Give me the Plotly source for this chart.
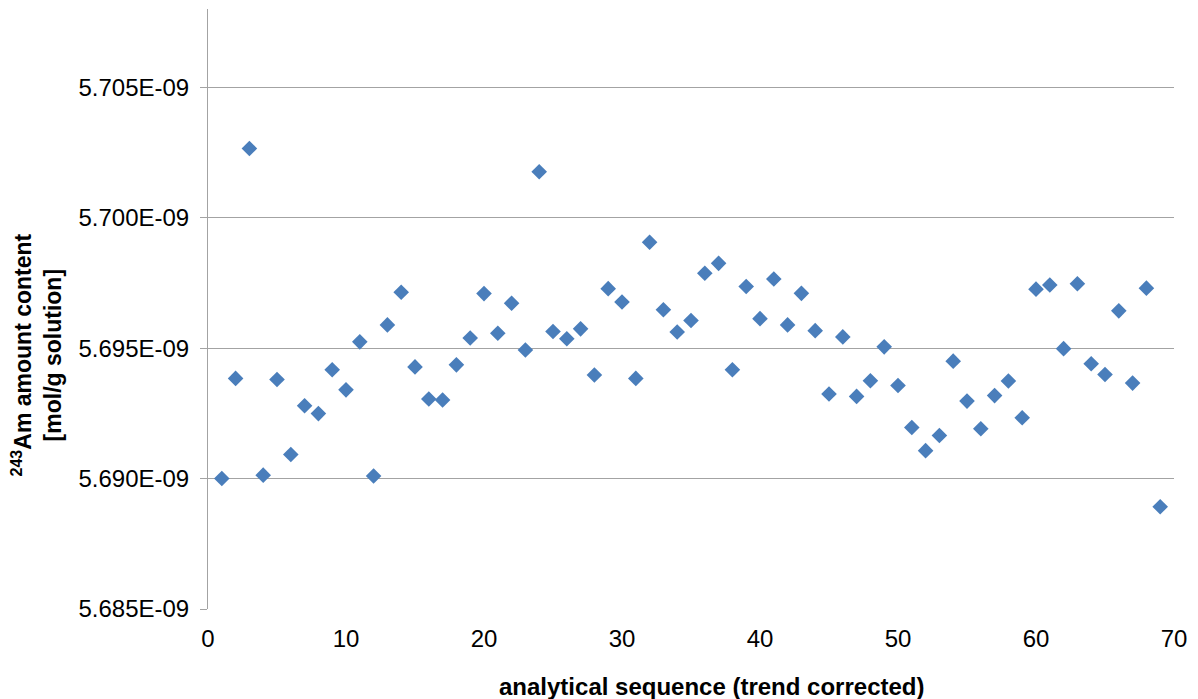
import plotly.graph_objects as go

# analytical sequence index
sequence = list(range(1, 70))

# 243Am amount content [mol/g solution] (x 1e-9)
am243 = [
    5.69000, 5.69384, 5.70265, 5.69013, 5.69380, 5.69092, 5.69279, 5.69249, 5.69417, 5.69340,
    5.69524, 5.69010, 5.69589, 5.69714, 5.69428, 5.69305, 5.69301, 5.69436, 5.69539, 5.69709,
    5.69557, 5.69672, 5.69493, 5.70176, 5.69564, 5.69536, 5.69574, 5.69397, 5.69728, 5.69677,
    5.69384, 5.69906, 5.69647, 5.69562, 5.69606, 5.69787, 5.69825, 5.69417, 5.69736, 5.69613,
    5.69765, 5.69589, 5.69710, 5.69567, 5.69324, 5.69543, 5.69315, 5.69375, 5.69505, 5.69357,
    5.69196, 5.69107, 5.69165, 5.69450, 5.69297, 5.69191, 5.69318, 5.69374, 5.69233, 5.69726,
    5.69742, 5.69498, 5.69747, 5.69440, 5.69399, 5.69643, 5.69366, 5.69730, 5.68892,
]
am243 = [v * 1e-9 for v in am243]

y_tick_vals = [5.685e-9, 5.690e-9, 5.695e-9, 5.700e-9, 5.705e-9]
y_tick_text = ["5.685E-09", "5.690E-09", "5.695E-09", "5.700E-09", "5.705E-09"]
x_tick_vals = [0, 10, 20, 30, 40, 50, 60, 70]

FONT = "Arial, 'Liberation Sans', sans-serif"

fig = go.Figure()
fig.add_trace(go.Scatter(
    x=sequence, y=am243, mode="markers",
    marker=dict(symbol="diamond", size=12, color="#4A7EBB",
                line=dict(width=0)),
    showlegend=False, hoverinfo="x+y",
))

fig.update_layout(
    width=1198, height=699,
    margin=dict(l=208, r=24, t=9, b=90, pad=0),
    paper_bgcolor="white", plot_bgcolor="white",
    font=dict(family=FONT, size=24, color="black"),
    xaxis=dict(
        range=[0, 70], tickvals=x_tick_vals, showgrid=False, zeroline=False,
        showline=False, ticks="", ticklabelstandoff=13,
        tickfont=dict(size=24, color="black"),
    ),
    yaxis=dict(
        range=[5.685e-9, 5.708e-9], tickvals=y_tick_vals, ticktext=y_tick_text,
        showgrid=True, gridcolor="#a3a3a3", gridwidth=1, zeroline=False,
        showline=True, linecolor="#a3a3a3", linewidth=1,
        ticks="outside", ticklen=7, tickcolor="#a3a3a3", tickwidth=1,
        ticklabelstandoff=6,
        tickfont=dict(size=24, color="black"),
    ),
    annotations=[
        dict(
            text="<b>analytical sequence (trend corrected)</b>",
            xref="paper", yref="paper", x=0.5217, y=-0.1295,
            xanchor="center", yanchor="middle", showarrow=False,
            font=dict(family=FONT, size=24, color="black"),
        ),
        dict(
            text="<b><sup>243</sup>Am amount content<br>[mol/g solution]</b>",
            xref="paper", yref="paper", x=-0.1775, y=0.4233,
            xanchor="center", yanchor="middle", showarrow=False, textangle=-90,
            font=dict(family=FONT, size=23, color="black"),
        ),
    ],
)

fig.write_html(
    "out.html",
    config={"displayModeBar": False},
    post_script="document.body.style.margin='0';document.body.style.overflow='hidden';",
)
